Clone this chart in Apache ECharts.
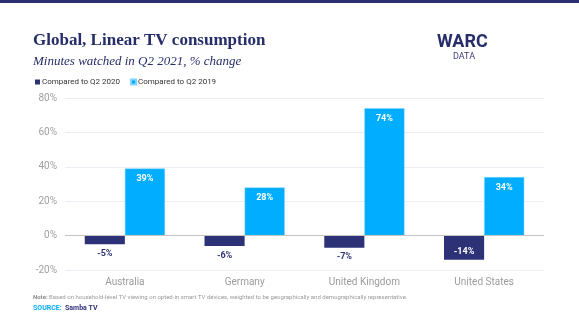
<!DOCTYPE html>
<html>
<head>
<meta charset="utf-8">
<script src="https://cdn.jsdelivr.net/npm/echarts@6/dist/echarts.min.js"></script>
<style>
  html, body { margin: 0; padding: 0; background: #fff; }
  #chart { width: 579px; height: 325px; }
</style>
</head>
<body>
<div id="chart"></div>
<script>
// Linear TV minutes watched, Q2 2021, % change
const countries = ['Australia', 'Germany', 'United Kingdom', 'United States'];
const vsQ2_2020 = [-5, -6, -7, -14];
const vsQ2_2019 = [39, 28, 74, 34];
const yTicks = [-20, 0, 20, 40, 60, 80];

const NAVY = '#2d3277';
const BLUE = '#00adff';

const chart = echarts.init(document.getElementById('chart'), null, { renderer: 'canvas' });

chart.setOption({
  animation: false,
  backgroundColor: '#ffffff',
  graphic: [
    { type: 'rect', shape: { x: 0, y: 0, width: 579, height: 3 }, style: { fill: '#2b3170' } },
    { type: 'text', left: 33, top: 32,
      style: { text: 'Global, Linear TV consumption', fill: '#262e6a',
               font: 'bold 17px "Liberation Serif", "DejaVu Serif", serif' } },
    { type: 'text', left: 33, top: 55,
      style: { text: 'Minutes watched in Q2 2021, % change', fill: '#262e6a',
               font: 'italic 13px "Liberation Serif", "DejaVu Serif", serif' } },
    { type: 'text', left: 437, top: 33,
      style: { text: 'WARC', fill: '#262e6a', font: 'bold 18px "Roboto", "Liberation Sans", sans-serif' } },
    { type: 'text', left: 453, top: 52,
      style: { text: 'DATA', fill: '#3a4078', font: '9px "Roboto", "Liberation Sans", sans-serif' } },
    { type: 'text', left: 33, top: 294,
      style: {
        text: '{b|Note:} Based on household-level TV viewing on opted-in smart TV devices, weighted to be geographically and demographically representative.',
        rich: {
          b: { fill: '#8a8a8a', fontWeight: 'bold', fontSize: 6, fontFamily: 'Roboto, sans-serif' }
        },
        fill: '#9a9a9a', fontSize: 6, fontFamily: 'Roboto, sans-serif'
      } },
    { type: 'text', left: 33, top: 302,
      style: {
        text: '{s|SOURCE:} {n|Samba TV}',
        rich: {
          s: { fill: BLUE, fontWeight: 'bold', fontSize: 7, fontFamily: 'Roboto, sans-serif' },
          n: { fill: NAVY, fontWeight: 'bold', fontSize: 7, fontFamily: 'Roboto, sans-serif' }
        }
      } }
  ],
  legend: {
    left: 30, top: 73,
    itemWidth: 5, itemHeight: 5, itemGap: 10,
    icon: 'rect',
    textStyle: { color: '#333', fontSize: 8, fontFamily: 'Roboto, sans-serif', padding: [0, 0, 0, -3] },
    data: ['Compared to Q2 2020', 'Compared to Q2 2019']
  },
  grid: { left: 65, right: 35, top: 98, bottom: 55 },
  xAxis: {
    type: 'category',
    data: countries,
    axisLine: { show: false },
    axisTick: { show: false },
    axisLabel: { color: '#9b9b9b', fontSize: 10, fontFamily: 'Roboto, sans-serif', margin: 7 }
  },
  yAxis: {
    type: 'value',
    min: yTicks[0], max: yTicks[yTicks.length - 1], interval: 20,
    axisLabel: { formatter: '{value}%', color: '#a0a0a0', fontSize: 10, fontFamily: 'Roboto, sans-serif', margin: 8 },
    axisLine: { show: false },
    axisTick: { show: false },
    splitLine: { lineStyle: { color: '#eceef6', width: 1 } }
  },
  series: [
    {
      name: 'Compared to Q2 2020',
      type: 'bar',
      data: vsQ2_2020.map(v => ({
        value: v,
        label: v <= -10
          ? { position: 'insideBottom', color: '#ffffff', distance: 3 }
          : { position: 'bottom', color: NAVY, distance: 5 }
      })),
      itemStyle: { color: NAVY },
      barGap: '0%',
      barCategoryGap: '33%',
      label: { show: true, formatter: p => p.value + '%', fontSize: 9, fontWeight: 'bold', fontFamily: 'Roboto, sans-serif' },
      markLine: {
        silent: true, symbol: 'none', label: { show: false },
        lineStyle: { color: '#c4c4c4', type: 'solid', width: 1 },
        data: [{ yAxis: 0 }]
      }
    },
    {
      name: 'Compared to Q2 2019',
      type: 'bar',
      data: vsQ2_2019,
      itemStyle: { color: BLUE, borderColor: '#7fd5ff', borderWidth: 0.5 },
      label: { show: true, position: 'insideTop', distance: 6, color: '#ffffff', formatter: p => p.value + '%', fontSize: 9, fontWeight: 'bold', fontFamily: 'Roboto, sans-serif' }
    }
  ]
});
</script>
</body>
</html>
